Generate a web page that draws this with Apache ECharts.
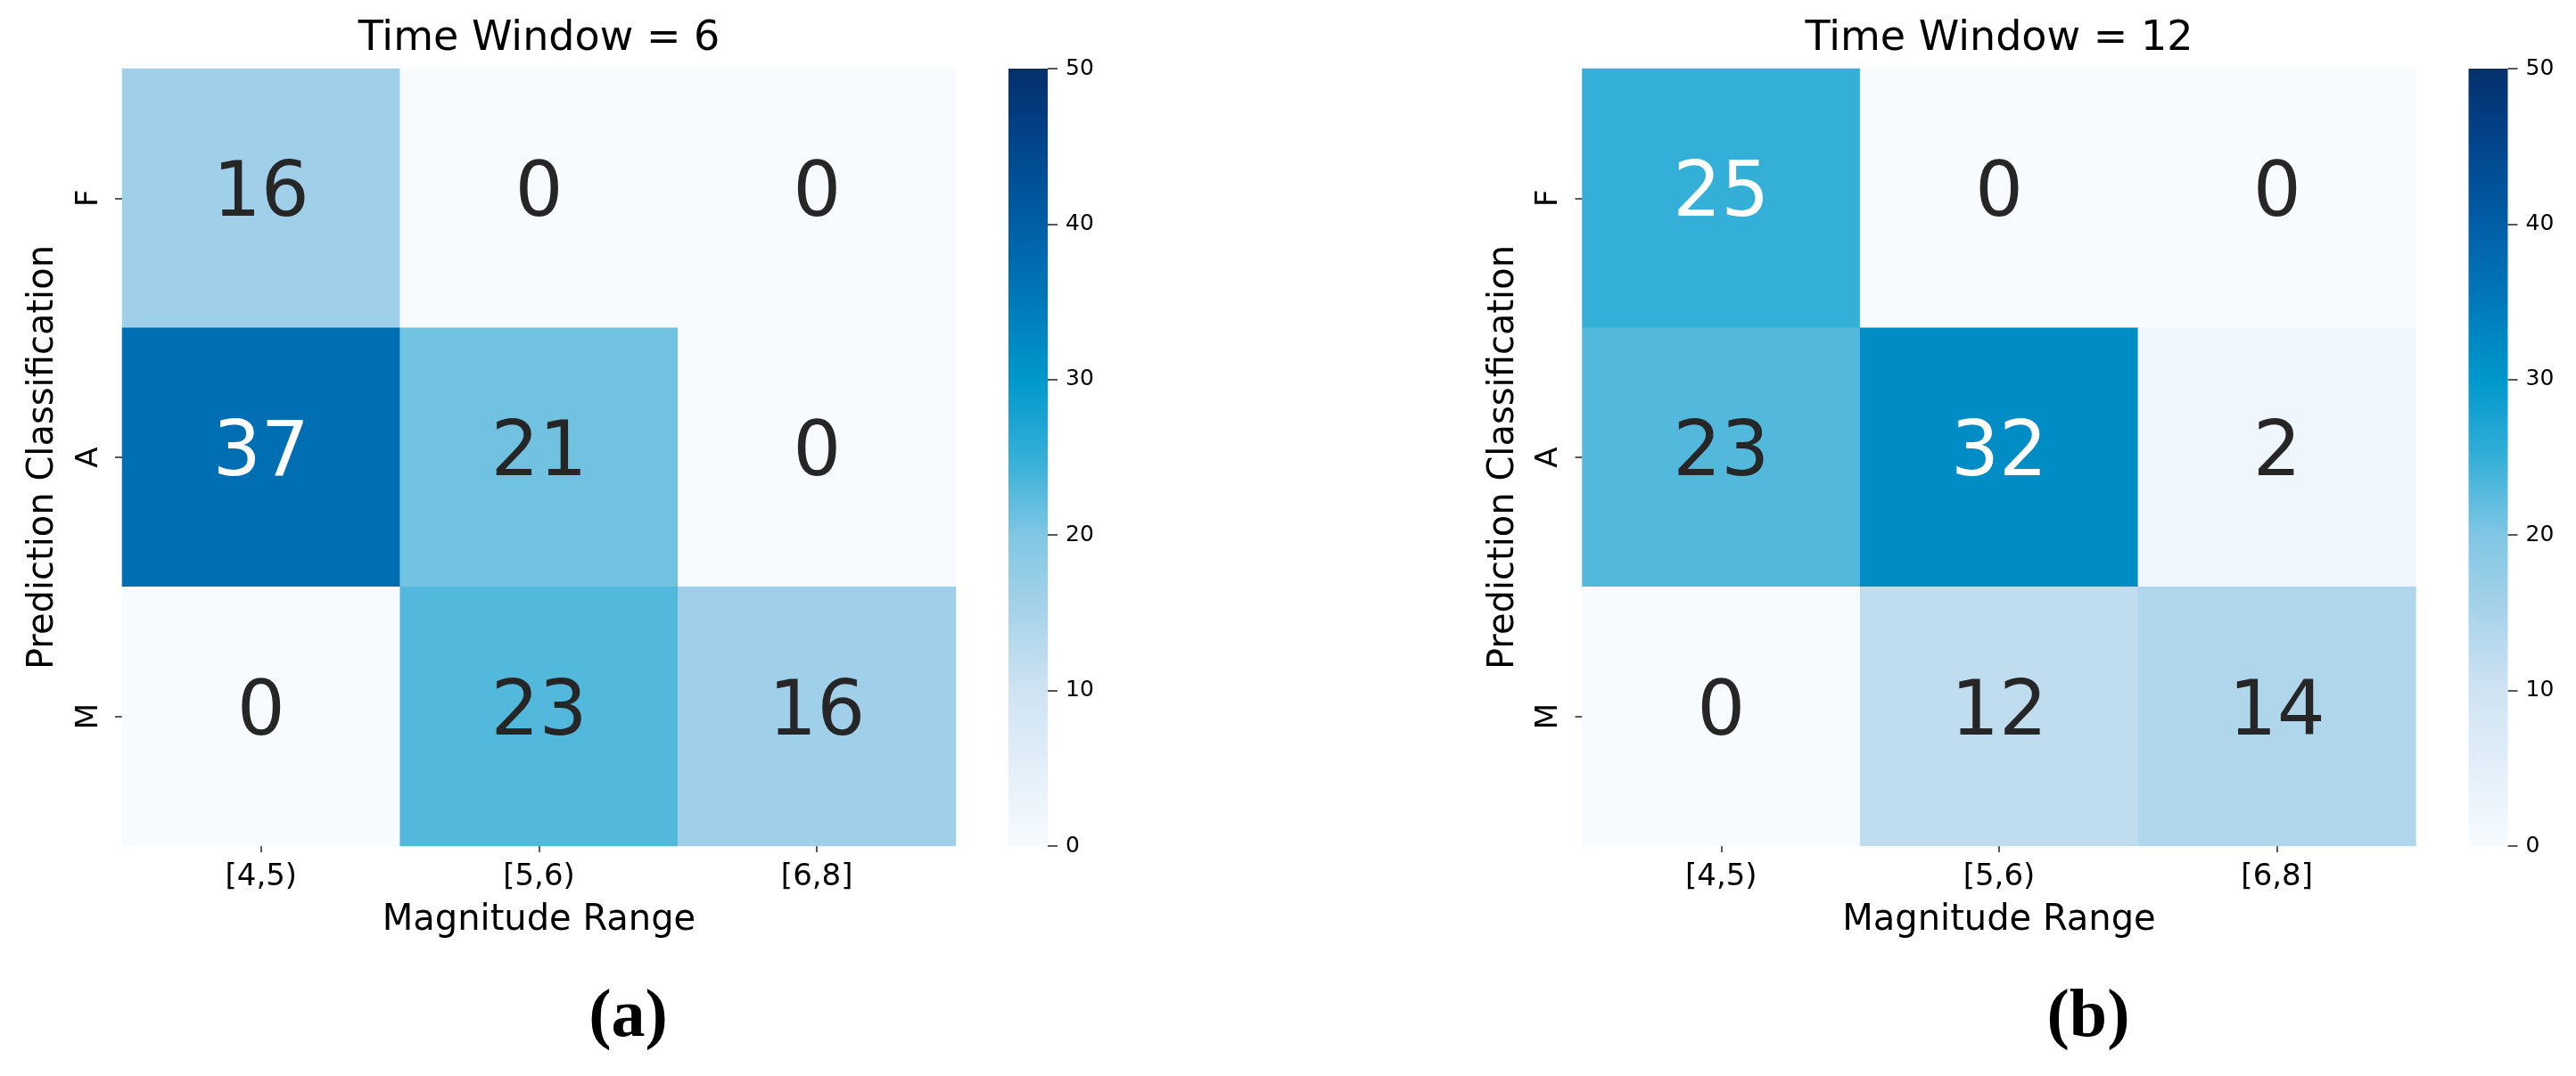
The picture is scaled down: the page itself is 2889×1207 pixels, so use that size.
<!DOCTYPE html>
<html><head><meta charset="utf-8">
<script src="https://cdn.jsdelivr.net/npm/echarts@6/dist/echarts.min.js"></script>
<style>html,body{margin:0;padding:0;background:#fff}#c{width:2889px;height:1207px}</style>
</head><body><div id="c"></div>
<script>
// ---- data ----
const magnitudeRanges = ['[4,5)', '[5,6)', '[6,8]'];
const predictionClasses = ['F', 'A', 'M'];
// rows follow predictionClasses, columns follow magnitudeRanges
const window6Counts = [[16, 0, 0], [37, 21, 0], [0, 23, 16]];
const window12Counts = [[25, 0, 0], [23, 32, 2], [0, 12, 14]];
const panelTitles = ['Time Window = 6', 'Time Window = 12'];
const panelTags = ['(a)', '(b)'];
const xAxisTitle = 'Magnitude Range';
const yAxisTitle = 'Prediction Classification';
const colorbarMin = 0, colorbarMax = 50, colorbarStep = 10;

// ---- style ----
const blueStops = ['#f7fbff', '#e3eff9', '#cfe3f3', '#a8d3ea', '#80c6e3', '#34afd8',
                   '#0098cc', '#0079bb', '#005ea6', '#01468c', '#062f6c'];
const lightTextFrom = 24.5;
const FONT = 'DejaVu Sans';
const panelOffsets = [0, 1637.5];
const HM = { left: 137, top: 77, width: 935, height: 872 };
const CB = { left: 1131, width: 44 };

const matrices = [window6Counts, window12Counts];
const option = {
  backgroundColor: '#ffffff',
  animation: false,
  textStyle: { fontFamily: FONT },
  title: [], grid: [], xAxis: [], yAxis: [], visualMap: [], series: []
};

const gradient = new echarts.graphic.LinearGradient(0, 1, 0, 0,
  blueStops.map((c, i) => ({ offset: i / (blueStops.length - 1), color: c })));

matrices.forEach((mat, p) => {
  const off = panelOffsets[p];
  const cellData = [];
  mat.forEach((row, r) => row.forEach((v, c) => {
    cellData.push({
      value: [c, r, v],
      label: { color: v >= lightTextFrom ? '#ffffff' : '#262626' }
    });
  }));

  option.title.push({
    text: panelTitles[p], left: HM.left + HM.width / 2 + off, top: 44,
    textAlign: 'center', textVerticalAlign: 'middle', padding: 0,
    textStyle: { fontFamily: FONT, fontSize: 46, fontWeight: 'normal', color: '#000' }
  });
  option.title.push({
    text: panelTags[p], left: 704.5 + off, top: 1142,
    textAlign: 'center', textVerticalAlign: 'middle', padding: 0,
    textStyle: { fontFamily: 'Liberation Serif', fontSize: 76, fontWeight: 'bold', color: '#000' }
  });

  // heatmap grid
  option.grid.push({ left: HM.left + off, top: HM.top, width: HM.width, height: HM.height, containLabel: false });
  // colorbar grid
  option.grid.push({ left: CB.left + off, top: HM.top, width: CB.width, height: HM.height, containLabel: false });

  option.xAxis.push({
    type: 'category', gridIndex: 2 * p, data: magnitudeRanges, position: 'bottom',
    axisLine: { show: false },
    axisTick: { show: true, alignWithLabel: true, length: 7, lineStyle: { color: '#222', width: 1.5 } },
    axisLabel: { fontSize: 34, color: '#000', margin: 18, fontFamily: FONT },
    splitLine: { show: false },
    name: xAxisTitle, nameLocation: 'middle', nameGap: 64,
    nameTextStyle: { fontSize: 40, color: '#000', fontFamily: FONT }
  });
  option.yAxis.push({
    type: 'category', gridIndex: 2 * p, data: predictionClasses, inverse: true,
    axisLine: { show: false },
    axisTick: { show: true, alignWithLabel: true, length: 8, lineStyle: { color: '#222', width: 1.5 } },
    axisLabel: { fontSize: 34, color: '#000', margin: 20, rotate: 90, fontFamily: FONT },
    splitLine: { show: false },
    name: yAxisTitle, nameLocation: 'middle', nameGap: 68, nameRotate: 90,
    nameTextStyle: { fontSize: 40, color: '#000', fontFamily: FONT }
  });

  option.xAxis.push({ type: 'category', gridIndex: 2 * p + 1, show: false, data: ['colorbar'] });
  option.yAxis.push({
    type: 'value', gridIndex: 2 * p + 1, position: 'right',
    min: colorbarMin, max: colorbarMax, interval: colorbarStep,
    axisLine: { show: false },
    axisTick: { show: true, length: 11, lineStyle: { color: '#222', width: 1.5 } },
    axisLabel: { fontSize: 25, color: '#000', margin: 20, fontFamily: FONT },
    splitLine: { show: false }
  });

  const hmIndex = option.series.length;
  option.visualMap.push({
    type: 'continuous', seriesIndex: hmIndex, dimension: 2, show: false,
    min: colorbarMin, max: colorbarMax,
    inRange: { color: blueStops }
  });

  option.series.push({
    type: 'heatmap', xAxisIndex: 2 * p, yAxisIndex: 2 * p, data: cellData,
    itemStyle: { borderWidth: 0 },
    label: { show: true, fontSize: 85, fontFamily: FONT, offset: [0, -2],
             formatter: (d) => String(d.value[2]) },
    emphasis: { disabled: true }
  });
  // colorbar: one bar spanning the full colour scale
  option.series.push({
    type: 'bar', xAxisIndex: 2 * p + 1, yAxisIndex: 2 * p + 1,
    data: [colorbarMax], barWidth: '100%', silent: true,
    itemStyle: { color: gradient, borderWidth: 0 },
    emphasis: { disabled: true }
  });
});

const chart = echarts.init(document.getElementById('c'), null, { renderer: 'canvas' });
chart.setOption(option);
</script></body></html>
